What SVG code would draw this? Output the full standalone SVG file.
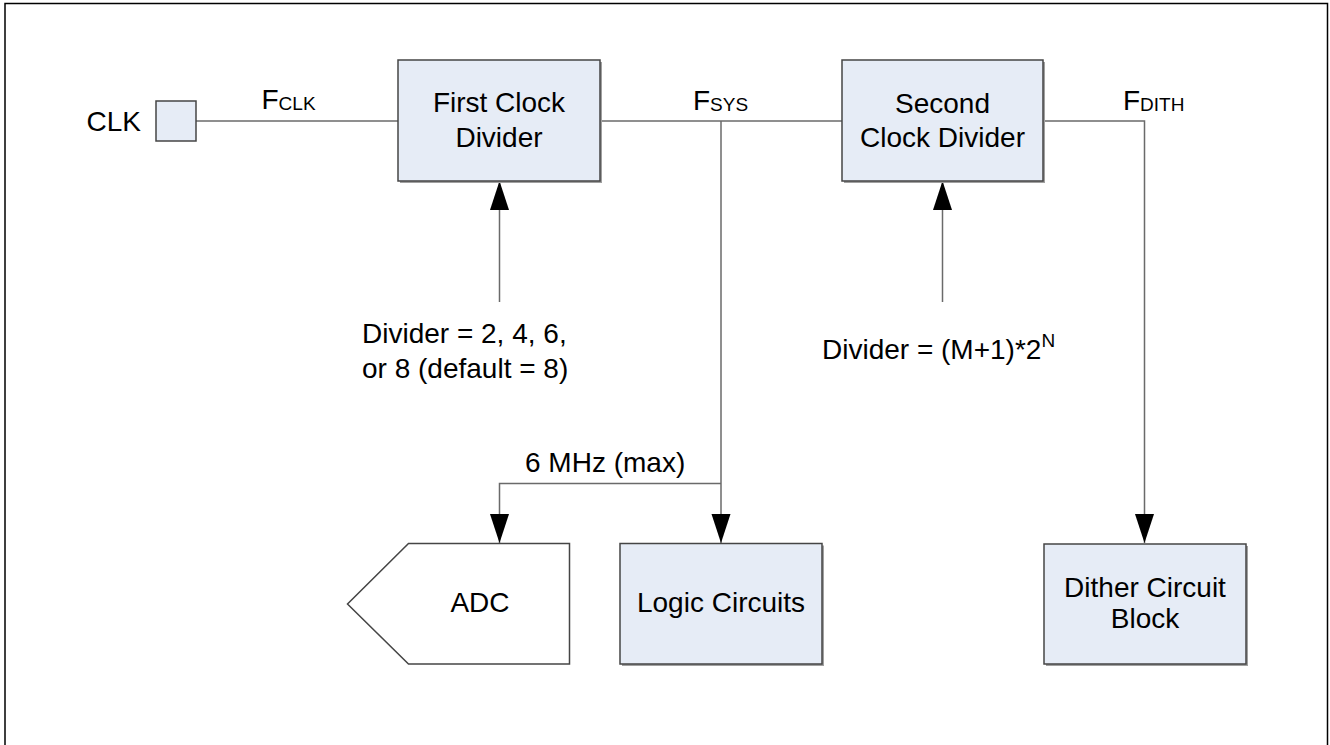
<svg xmlns="http://www.w3.org/2000/svg" width="1330" height="745" viewBox="0 0 1330 745">
<style>
text{font-family:"Liberation Sans",Arial,sans-serif;font-size:28px;fill:#000}
.sub{font-size:19px}
.box{fill:#E6ECF6;stroke:#454545;stroke-width:1.5}
.shadow{fill:#A0A0A0}
.wire{fill:none;stroke:#6A6A6A;stroke-width:1.5}
</style>
<defs>
<marker id="arr" markerUnits="userSpaceOnUse" markerWidth="30" markerHeight="20" refX="29" refY="9.5" orient="auto">
<path d="M0,0 L29,9.5 L0,19 z" fill="#000"/>
</marker>
</defs>
<rect x="5" y="3.5" width="1322.5" height="760" fill="#fff" stroke="#000" stroke-width="1.5"/>

<g id="connectors">
<line class="wire" x1="196" y1="121" x2="398" y2="121"/>
<line class="wire" x1="600" y1="121" x2="842" y2="121"/>
<path class="wire" d="M1043,121 H1144.5 V543" marker-end="url(#arr)"/>
<path class="wire" d="M721,121 V543" marker-end="url(#arr)"/>
<path class="wire" d="M721,483.5 H499.5 V543" marker-end="url(#arr)"/>
<path class="wire" d="M499.5,302 V181" marker-end="url(#arr)"/>
<path class="wire" d="M942.5,302 V181" marker-end="url(#arr)"/>
<text x="261.5" y="109">F<tspan class="sub" dy="1">CLK</tspan></text>
<text x="693" y="110">F<tspan class="sub" dy="1">SYS</tspan></text>
<text x="1123" y="110">F<tspan class="sub" dy="1">DITH</tspan></text>
<text x="525" y="472">6 MHz (max)</text>
</g>

<g id="clk">
<text x="141" y="131" text-anchor="end">CLK</text>
<rect class="box" x="156" y="101" width="40" height="40"/>
</g>

<g id="first-divider">
<rect class="shadow" x="400" y="62" width="202" height="121"/>
<rect class="box" x="398" y="60" width="202" height="121"/>
<text x="499" y="112" text-anchor="middle">First Clock</text>
<text x="499" y="147" text-anchor="middle">Divider</text>
</g>

<g id="first-divider-setting">
<text x="362" y="343">Divider = 2, 4, 6,</text>
<text x="362" y="378">or 8 (default = 8)</text>
</g>

<g id="second-divider">
<rect class="shadow" x="844" y="62" width="201" height="121"/>
<rect class="box" x="842" y="60" width="201" height="121"/>
<text x="942.5" y="113" text-anchor="middle">Second</text>
<text x="942.5" y="147" text-anchor="middle">Clock Divider</text>
</g>

<g id="second-divider-setting">
<text x="822" y="359">Divider = (M+1)*2<tspan class="sub" dy="-12">N</tspan></text>
</g>

<g id="adc">
<path d="M408.5,543.5 H569.5 V664 H408.5 L347.5,604 Z" fill="#fff" stroke="#454545" stroke-width="1.5"/>
<text x="480" y="612" text-anchor="middle">ADC</text>
</g>

<g id="logic">
<rect class="shadow" x="622" y="545.5" width="202" height="120.5"/>
<rect class="box" x="620" y="543.5" width="202" height="120.5"/>
<text x="721" y="612" text-anchor="middle">Logic Circuits</text>
</g>

<g id="dither">
<rect class="shadow" x="1046" y="546" width="202" height="120"/>
<rect class="box" x="1044" y="544" width="202" height="120"/>
<text x="1145" y="597" text-anchor="middle">Dither Circuit</text>
<text x="1145" y="628" text-anchor="middle">Block</text>
</g>
</svg>
